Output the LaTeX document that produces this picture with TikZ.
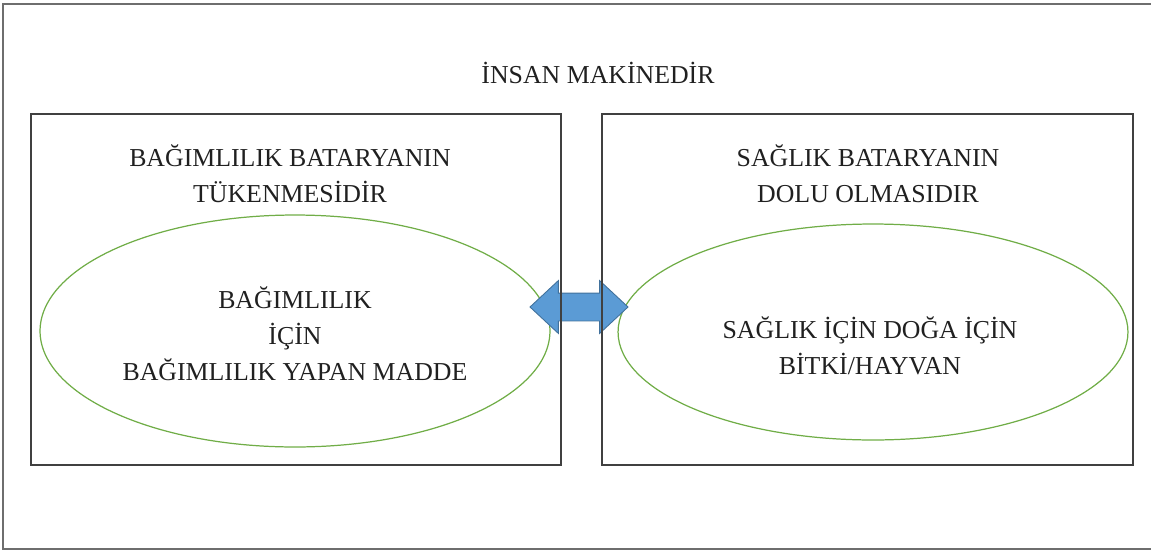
\documentclass[tikz,border=0pt]{standalone}
\usepackage{fontspec}
\setmainfont{Liberation Serif}
\usepackage{xcolor}
\usetikzlibrary{shapes.geometric, shapes.arrows}

\definecolor{boxgray}{HTML}{404040}
\definecolor{framegray}{HTML}{6E6E6E}
\definecolor{ovalgreen}{HTML}{70AD47}
\definecolor{arrowblue}{HTML}{5B9BD5}
\definecolor{arrowedge}{HTML}{41719C}
\definecolor{textgray}{HTML}{202020}

\tikzset{
  txt/.style={align=center, text=textgray, font=\fontsize{14.7}{20.5}\selectfont, inner sep=0pt},
  oval/.style={ellipse, draw=ovalgreen, line width=0.7pt, inner sep=0pt},
  panel/.style={draw=boxgray, line width=1.1pt}
}

\begin{document}
\begin{tikzpicture}[x=0.02cm, y=-0.02cm]
\useasboundingbox (0,0) rectangle (1151,551);
\draw[framegray, line width=1.1pt] (3,4) rectangle (1160,549);
\node[txt] (title) at (598,73) {İNSAN MAKİNEDİR};
\node[txt] (lhead) at (290,174) {BAĞIMLILIK BATARYANIN\\TÜKENMESİDİR};
\node[txt] (rhead) at (868,174) {SAĞLIK BATARYANIN\\DOLU OLMASIDIR};
% ovals
\node[oval, minimum width=10.2cm, minimum height=4.64cm] (lov) at (295,331) {};
\node[oval, minimum width=10.2cm, minimum height=4.32cm] (rov) at (873,332) {};
\node[txt] (ltext) at (295,334) {BAĞIMLILIK\\İÇİN\\BAĞIMLILIK YAPAN MADDE};
\node[txt] (rtext) at (870,346) {SAĞLIK İÇİN DOĞA İÇİN\\BİTKİ/HAYVAN};
% arrow between ovals
\node[double arrow, fill=arrowblue, draw=arrowedge, line width=0.5pt,
      inner xsep=0pt, inner ysep=0.27cm,
      minimum width=1.04cm, minimum height=1.96cm,
      double arrow head extend=0.25cm, double arrow tip angle=86] (link) at (579,307) {};
% two panels (on top of the arrow)
\draw[panel] (31,114) rectangle (561,465);
\draw[panel] (602,114) rectangle (1133,465);
\end{tikzpicture}
\end{document}
